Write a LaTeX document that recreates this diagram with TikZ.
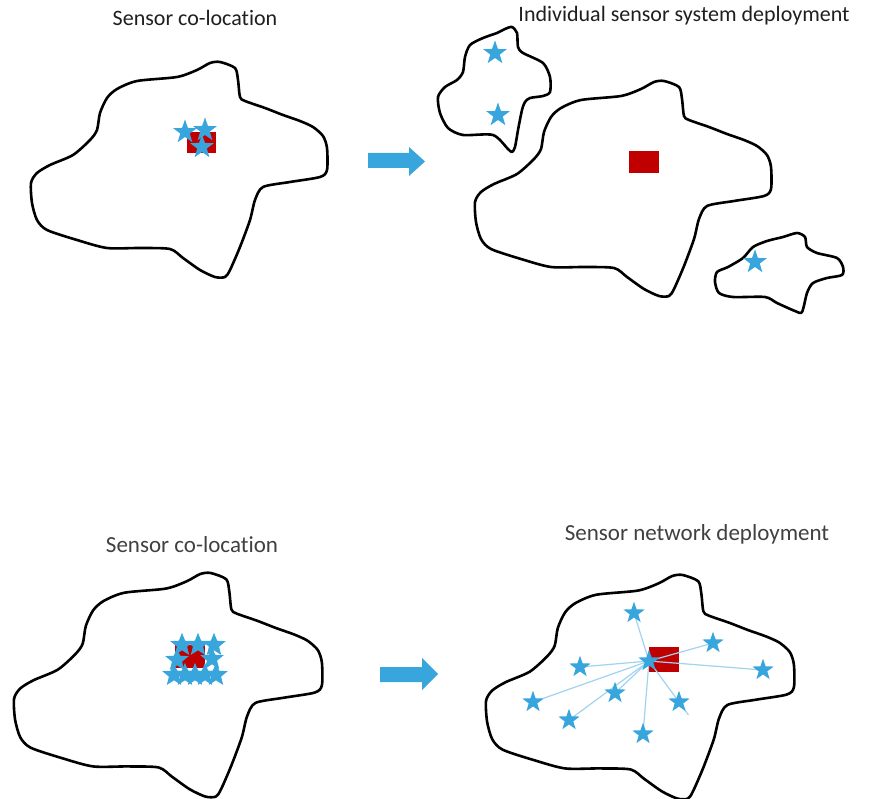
\documentclass[tikz,border=0pt]{standalone}
\usepackage{fontspec}
\setmainfont{Carlito}[Ligatures=NoCommon]
\usetikzlibrary{shapes.geometric}
\definecolor{sensorblue}{HTML}{38A6DC}
\definecolor{linkblue}{HTML}{9FD3EF}
\definecolor{hubred}{HTML}{C00000}
\pgfdeclarelayer{under}
\pgfdeclarelayer{links}
\pgfsetlayers{under,links,main}

% large region outline (coordinates of the upper-left copy)
\newcommand\bigblob{%
  \draw[outline] plot[smooth cycle, tension=0.45] coordinates {
    (210,63) (220,62) (235,68) (238,80) (240,97) (245,101) (265,108) (283,115)
    (300,121) (313,127) (323,136) (327,148) (327,170) (320,177) (290,182)
    (263,187) (255,200) (250,220) (240,247) (230,270) (225,277) (215,277)
    (200,270) (183,258) (170,249) (140,248) (107,248) (77,240) (47,230)
    (37,220) (32,203) (31,183) (37,173) (50,165) (73,155) (90,140) (97,130)
    (100,113) (107,98) (117,89) (137,81) (177,77) (197,70)};}

\begin{document}
\begin{tikzpicture}[x=1pt,y=-1pt,
  outline/.style={draw=black, line width=2.6pt, line join=round},
  sensor/.style={star, star points=5, star point ratio=2.5, fill=sensorblue,
    draw=none, minimum size=25pt, inner sep=0pt},
  small/.style={minimum size=22.5pt},
  packed/.style={minimum size=24.5pt, star point ratio=2.3},
  station/.style={rectangle, fill=hubred, draw=none, inner sep=0pt,
    minimum width=30pt, minimum height=22pt},
  link/.style={draw=linkblue, line width=1.2pt},
  flow/.style={fill=sensorblue, draw=none},
  title/.style={font=\fontsize{22}{26}\selectfont, text=black!88, anchor=base, inner sep=0pt},
  subtitle/.style={font=\fontsize{23}{27}\selectfont, text=black!75, anchor=base, inner sep=0pt}]

\useasboundingbox (0,0) rectangle (874,799);

% ---------- upper row: co-location ----------
\node[title] (t1) at (195,26) {Sensor co-location};
\bigblob
\begin{pgfonlayer}{under}
  \node[station, minimum width=29pt, minimum height=21pt] (r1) at (201,142.5) {};
\end{pgfonlayer}
\node[sensor] (a1) at (185,132) {};
\node[sensor] (a2) at (205,130) {};
\node[sensor] (a3) at (202,147) {};

% arrow
\fill[flow] (368,153) -- (409,153) -- (409,147) -- (425,161.5)
  -- (409,176) -- (409,168) -- (368,168) -- cycle;

% ---------- upper row: individual deployment ----------
\node[title] (t2) at (684,22) {Individual sensor system deployment};
\begin{scope}[shift={(444,19)}]
  \bigblob
\end{scope}
\node[station] (r2) at (644,162) {};

\draw[outline] plot[smooth cycle, tension=0.45] coordinates {
  (512,27) (517,33) (518,47) (523,53) (543,63) (550,77) (550,92) (543,96)
  (530,98) (525,102) (522,110) (518,130) (515,147) (512,152) (508,149)
  (493,135) (463,135) (448,128) (440,113) (438,97) (445,87) (457,80)
  (463,72) (465,57) (470,45) (483,38) (497,33) (505,29)};
\node[sensor] (b1) at (495,53) {};
\node[sensor] (b2) at (498,115) {};

\draw[outline] plot[smooth cycle, tension=0.45] coordinates {
  (797,233) (805,237) (807,247) (817,253) (837,258) (843,267) (842,275)
  (827,278) (813,283) (807,293) (802,312) (795,311) (777,303) (765,297)
  (733,297) (719,293) (715,282) (717,272) (728,267) (743,258) (753,247)
  (767,241) (783,237)};
\node[sensor] (b3) at (755,262) {};

% ---------- lower row: co-location ----------
\node[subtitle] (t3) at (192,552) {Sensor co-location};
\begin{scope}[shift={(-18.2,508.5)}, scale=1.04]
  \bigblob
\end{scope}
\begin{pgfonlayer}{under}
  \node[station, minimum width=30pt, minimum height=23pt] (r3) at (190,656.5) {};
\end{pgfonlayer}
\node[sensor, packed] (c1) at (182,645) {};
\node[sensor, packed] (c2) at (198,645) {};
\node[sensor, packed] (c3) at (214,645) {};
\node[sensor, packed] (c4) at (177,660) {};
\node[sensor, packed] (c5) at (212,659) {};
\node[sensor, packed] (c6) at (174,675) {};
\node[sensor, packed] (c7) at (185,675) {};
\node[sensor, packed] (c8) at (195,675) {};
\node[sensor, packed] (c9) at (205,675) {};
\node[sensor, packed] (c10) at (216,675) {};

% arrow
\fill[flow] (380,667) -- (422,667) -- (422,658) -- (438,674)
  -- (422,690) -- (422,682) -- (380,682) -- cycle;

% ---------- lower row: network deployment ----------
\node[subtitle] (t4) at (697,540) {Sensor network deployment};
\begin{scope}[shift={(453.8,510.5)}, scale=1.04]
  \bigblob
\end{scope}
\begin{pgfonlayer}{under}
  \node[station, minimum height=25pt] (r4) at (664,659.5) {};
\end{pgfonlayer}
\node[sensor, small] (hub) at (649,661) {};
\node[sensor, small] (n1) at (634,613) {};
\node[sensor, small] (n2) at (713,643) {};
\node[sensor, small] (n3) at (763,670) {};
\node[sensor, small] (n4) at (580,667) {};
\node[sensor, small] (n5) at (533,702) {};
\node[sensor, small] (n6) at (615,693) {};
\node[sensor, small] (n7) at (569,720) {};
\node[sensor, small] (n8) at (643,734) {};
\node[sensor, small] (n9) at (679,702) {};
\begin{pgfonlayer}{links}
  \foreach \n in {n1,n2,n3,n4,n5,n6,n7,n8}
    \draw[link] (hub.center) -- (\n.center);
  \draw[link, shorten >=-16pt] (hub.center) -- (n9.center);
\end{pgfonlayer}

\end{tikzpicture}
\end{document}
